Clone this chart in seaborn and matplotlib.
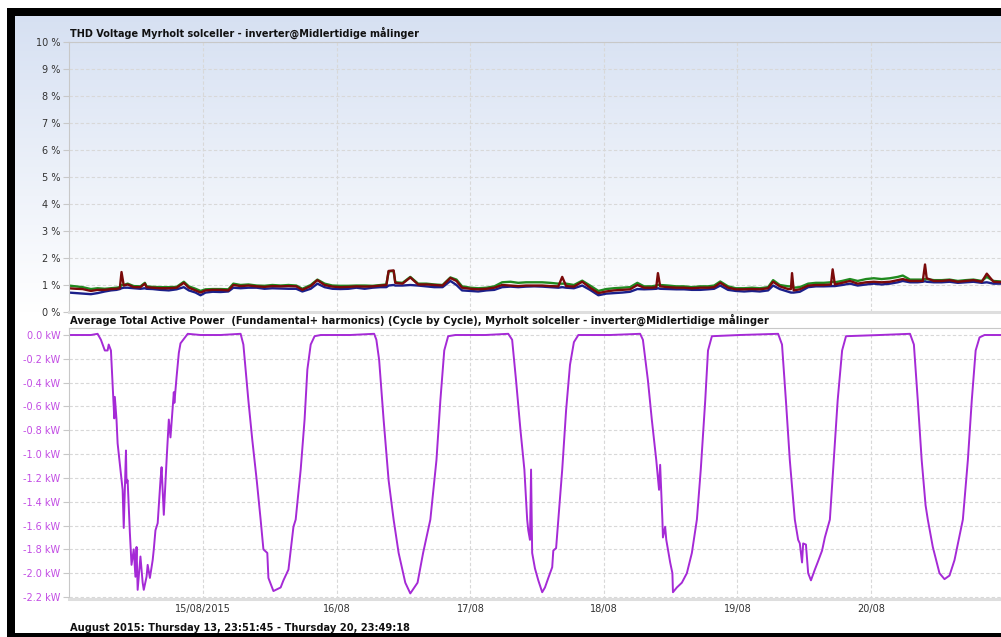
import numpy as np
import pandas as pd
import matplotlib
matplotlib.use("Agg")
import matplotlib.pyplot as plt
from matplotlib.patches import Rectangle
from matplotlib.ticker import FixedLocator, FixedFormatter
import seaborn as sns

# ---------------- data ----------------
# hours since 2015-08-14 00:00
thd_hours = [-0.2, 1.1, 2.3, 3.8, 5.0, 6.3, 7.4, 8.4, 9.0, 9.3,
             9.7, 10.4, 11.5, 12.7, 13.5, 13.8, 14.9, 16.3, 17.8, 19.2,
             20.5, 21.4, 22.6, 23.5, 24.4, 25.7, 27.1, 28.5, 29.4, 30.7,
             32.1, 33.6, 35.0, 36.4, 37.9, 39.3, 40.7, 41.8, 43.3, 44.5,
             45.8, 47.2, 48.6, 50.1, 51.5, 53.0, 54.4, 55.8, 56.9, 57.3,
             58.2, 58.5, 59.8, 61.2, 62.6, 64.1, 65.5, 67.0, 68.4, 69.5,
             70.5, 72.0, 73.4, 74.9, 76.3, 77.7, 79.2, 80.6, 82.0, 83.5,
             84.9, 86.3, 87.8, 88.5, 89.2, 90.6, 92.1, 93.5, 95.0, 96.4,
             97.8, 99.3, 100.7, 102.0, 103.2, 104.6, 105.4, 105.7, 106.1, 107.5,
             109.0, 110.4, 111.8, 113.3, 114.7, 115.8, 116.9, 118.3, 119.7, 121.2,
             122.6, 124.0, 125.5, 126.4, 127.6, 129.1, 129.6, 129.8, 130.1, 131.2,
             132.7, 134.1, 135.5, 136.8, 137.1, 137.5, 138.8, 140.2, 141.6, 143.1,
             144.5, 145.9, 147.4, 148.8, 149.7, 151.0, 152.4, 153.3, 153.7, 154.0,
             155.3, 156.7, 158.1, 159.6, 161.0, 162.4, 163.9, 164.8, 166.0, 167.9]
thd_green = [0.98, 0.95, 0.92, 0.85, 0.88, 0.86, 0.88, 0.90, 0.92, 1.00,
             1.00, 1.05, 0.96, 0.95, 1.08, 0.95, 0.93, 0.92, 0.92, 0.93,
             1.12, 0.95, 0.86, 0.78, 0.84, 0.85, 0.85, 0.84, 1.05, 1.00,
             1.02, 0.98, 0.97, 1.00, 0.98, 1.00, 0.98, 0.86, 1.00, 1.20,
             1.05, 0.98, 0.97, 0.97, 0.98, 0.98, 0.97, 1.00, 1.02, 1.50,
             1.52, 1.10, 1.08, 1.30, 1.05, 1.05, 1.02, 1.00, 1.28, 1.20,
             0.95, 0.90, 0.88, 0.90, 0.95, 1.10, 1.12, 1.08, 1.10, 1.10,
             1.10, 1.08, 1.05, 1.05, 1.05, 1.00, 1.16, 0.98, 0.78, 0.85,
             0.88, 0.90, 0.92, 1.08, 0.95, 0.95, 0.98, 1.00, 1.00, 0.98,
             0.95, 0.95, 0.92, 0.95, 0.95, 0.98, 1.13, 0.95, 0.88, 0.88,
             0.90, 0.88, 0.92, 1.18, 1.00, 0.95, 0.95, 0.95, 0.90, 0.92,
             1.05, 1.08, 1.08, 1.10, 1.12, 1.10, 1.15, 1.22, 1.15, 1.22,
             1.25, 1.22, 1.25, 1.30, 1.35, 1.20, 1.20, 1.20, 1.22, 1.22,
             1.18, 1.18, 1.20, 1.15, 1.18, 1.20, 1.15, 1.30, 1.15, 1.12]
thd_red = [0.88, 0.86, 0.85, 0.78, 0.82, 0.82, 0.85, 0.86, 0.88, 1.48,
           0.98, 1.02, 0.92, 0.92, 1.05, 0.92, 0.90, 0.88, 0.88, 0.90,
           1.08, 0.90, 0.80, 0.72, 0.80, 0.82, 0.82, 0.80, 1.00, 0.96,
           0.98, 0.95, 0.93, 0.96, 0.95, 0.96, 0.95, 0.82, 0.96, 1.18,
           1.00, 0.94, 0.92, 0.93, 0.95, 0.94, 0.95, 0.98, 1.00, 1.52,
           1.54, 1.08, 1.05, 1.28, 1.02, 1.02, 1.00, 0.98, 1.26, 1.15,
           0.90, 0.86, 0.84, 0.86, 0.90, 1.00, 0.98, 0.96, 0.98, 0.98,
           0.98, 0.96, 0.95, 1.30, 0.96, 0.94, 1.12, 0.90, 0.70, 0.76,
           0.80, 0.82, 0.84, 1.00, 0.90, 0.90, 0.92, 1.44, 0.95, 0.92,
           0.90, 0.90, 0.88, 0.90, 0.90, 0.92, 1.08, 0.90, 0.84, 0.84,
           0.85, 0.84, 0.88, 1.12, 0.95, 0.85, 0.85, 1.44, 0.80, 0.84,
           0.98, 1.00, 1.00, 1.02, 1.58, 1.02, 1.08, 1.15, 1.05, 1.10,
           1.12, 1.10, 1.12, 1.18, 1.22, 1.15, 1.15, 1.15, 1.76, 1.25,
           1.15, 1.15, 1.18, 1.12, 1.15, 1.18, 1.12, 1.42, 1.12, 1.10]
thd_navy = [0.72, 0.70, 0.68, 0.66, 0.70, 0.76, 0.80, 0.82, 0.85, 0.88,
            0.90, 0.90, 0.88, 0.86, 0.88, 0.86, 0.85, 0.82, 0.80, 0.84,
            0.92, 0.80, 0.72, 0.62, 0.72, 0.75, 0.74, 0.76, 0.90, 0.88,
            0.90, 0.90, 0.86, 0.88, 0.87, 0.86, 0.86, 0.76, 0.86, 1.05,
            0.92, 0.86, 0.85, 0.86, 0.90, 0.86, 0.90, 0.92, 0.92, 0.98,
            1.00, 0.98, 0.98, 1.00, 0.98, 0.95, 0.92, 0.92, 1.15, 1.00,
            0.80, 0.78, 0.76, 0.80, 0.82, 0.92, 0.94, 0.92, 0.94, 0.95,
            0.94, 0.92, 0.90, 0.92, 0.90, 0.88, 0.98, 0.82, 0.62, 0.68,
            0.70, 0.72, 0.75, 0.85, 0.84, 0.85, 0.86, 0.88, 0.86, 0.85,
            0.84, 0.84, 0.82, 0.82, 0.84, 0.86, 0.98, 0.82, 0.78, 0.76,
            0.78, 0.76, 0.80, 0.98, 0.85, 0.75, 0.72, 0.72, 0.72, 0.75,
            0.92, 0.95, 0.95, 0.96, 0.96, 0.96, 1.00, 1.05, 0.98, 1.02,
            1.05, 1.02, 1.05, 1.10, 1.15, 1.10, 1.10, 1.12, 1.14, 1.12,
            1.10, 1.10, 1.12, 1.08, 1.10, 1.12, 1.08, 1.10, 1.05, 1.05]

power_hours = ([-0.2, 3.8, 5.0, 5.6, 6.3, 6.8, 7.0, 7.4, 7.9, 8.0,
                8.1, 8.4, 8.6, 9.5, 9.7, 10.1, 10.2, 10.4, 10.8, 11.1,
                11.5, 11.8, 12.0, 12.2, 12.7, 13.1, 13.3, 13.8, 14.0, 14.4,
                14.9, 15.1, 15.4, 15.8, 16.3, 16.5, 16.9, 17.4, 17.8, 18.1,
                18.5, 18.7, 18.8, 19.2, 19.6, 19.9, 21.2, 23.5, 27.1]
               + [30.7, 31.2, 32.1, 32.8, 33.6, 34.3, 34.8, 35.5, 35.7, 36.6, 37.9,
                  38.4, 39.3, 40.2, 40.6, 41.5, 42.2, 42.7, 43.3, 44.0, 45.1, 50.4]
               + [54.7, 55.1, 55.6, 56.4, 57.3, 58.2, 59.1, 60.3, 61.2, 62.5,
                  63.5, 64.8, 65.9, 66.6, 67.3, 68.0, 69.3, 74.7]
               + [78.8, 79.5, 80.2, 81.0, 81.7, 82.2, 82.4, 82.7, 82.9, 83.1,
                  83.6, 84.2, 84.9, 85.4, 86.0, 86.7, 86.9, 87.4, 87.8, 88.5,
                  89.2, 89.9, 90.6, 91.4, 97.1]
               + [102.5, 103.0, 103.9, 104.6, 105.4, 105.9, 106.1, 106.5, 106.6, 107.0,
                  107.2, 107.9, 108.3, 108.4, 109.1, 110.0, 110.9, 111.8, 112.7, 113.4,
                  114.2, 114.7, 115.4, 120.4]
               + [127.3, 128.0, 128.7, 129.4, 130.0, 130.3, 130.9, 131.2, 131.6, 131.8,
                  132.3, 132.7, 133.2, 133.9, 134.4, 135.2, 135.7, 136.6, 137.3, 138.0,
                  138.8, 139.5, 145.6]
               + [151.0, 151.7, 152.4, 153.1, 153.8, 154.2, 155.1, 156.3, 157.2, 158.1,
                  159.0, 160.5, 161.4, 162.1, 162.8, 163.5, 164.4, 167.9])
power_kw = ([0.0, 0.0, 0.01, -0.04, -0.13, -0.13, -0.08, -0.13, -0.60, -0.70,
             -0.52, -0.71, -0.91, -1.30, -1.62, -0.97, -1.24, -1.22, -1.66, -1.93,
             -1.80, -2.03, -1.78, -2.14, -1.86, -2.08, -2.14, -2.03, -1.93, -2.04,
             -1.89, -1.80, -1.64, -1.58, -1.22, -1.11, -1.51, -1.05, -0.71, -0.86,
             -0.60, -0.48, -0.57, -0.35, -0.15, -0.07, 0.01, 0.0, 0.0]
            + [0.01, -0.08, -0.55, -0.88, -1.22, -1.55, -1.80, -1.83, -2.04, -2.15, -2.12,
               -2.06, -1.97, -1.61, -1.55, -1.13, -0.71, -0.29, -0.08, -0.01, 0.0, 0.0]
            + [0.01, -0.04, -0.21, -0.71, -1.22, -1.55, -1.83, -2.08, -2.17, -2.08,
               -1.83, -1.55, -1.05, -0.55, -0.13, -0.01, 0.0, 0.0]
            + [0.01, -0.04, -0.38, -0.80, -1.13, -1.55, -1.64, -1.72, -1.13, -1.83,
               -1.96, -2.06, -2.16, -2.12, -2.04, -1.95, -1.81, -1.79, -1.55, -1.13,
               -0.63, -0.25, -0.06, 0.0, 0.0]
            + [0.01, -0.04, -0.38, -0.71, -1.05, -1.30, -1.09, -1.55, -1.70, -1.61,
               -1.72, -1.91, -2.00, -2.16, -2.12, -2.08, -2.00, -1.83, -1.55, -1.13,
               -0.55, -0.13, -0.01, 0.0]
            + [0.01, -0.08, -0.55, -1.05, -1.39, -1.55, -1.72, -1.75, -1.91, -1.75,
               -1.76, -2.00, -2.06, -1.97, -1.91, -1.81, -1.70, -1.55, -1.05, -0.55,
               -0.13, -0.01, 0.0]
            + [0.01, -0.08, -0.55, -1.05, -1.43, -1.55, -1.78, -2.00, -2.05, -2.02,
               -1.89, -1.55, -1.05, -0.55, -0.13, -0.02, 0.0, 0.0])

thd_ticks = [0, 1, 2, 3, 4, 5, 6, 7, 8, 9, 10]
thd_labels = ["0 %", "1 %", "2 %", "3 %", "4 %", "5 %", "6 %", "7 %", "8 %", "9 %", "10 %"]
kw_ticks = [0.0, -0.2, -0.4, -0.6, -0.8, -1.0, -1.2, -1.4, -1.6, -1.8, -2.0, -2.2]
kw_labels = ["0.0 kW", "-0.2 kW", "-0.4 kW", "-0.6 kW", "-0.8 kW", "-1.0 kW",
             "-1.2 kW", "-1.4 kW", "-1.6 kW", "-1.8 kW", "-2.0 kW", "-2.2 kW"]
day_ticks = [24, 48, 72, 96, 120, 144]
day_labels = ["15/08/2015", "16/08", "17/08", "18/08", "19/08", "20/08"]
x_start, x_end = -0.1375, 167.822   # 13/08 23:51:45 .. 20/08 23:49:18

title_top = "THD Voltage Myrholt solceller - inverter@Midlertidige målinger"
title_bottom = ("Average Total Active Power  (Fundamental+ harmonics) (Cycle by Cycle), "
                "Myrholt solceller - inverter@Midlertidige målinger")
footer = "August 2015: Thursday 13, 23:51:45 - Thursday 20, 23:49:18"

# ---------------- figure ----------------
sns.set_theme(style="white")
plt.rcParams['font.family'] = ['DejaVu Sans']

W, H = 1001, 637
fig = plt.figure(figsize=(W / 100, H / 100), dpi=100)
fig.patch.set_facecolor('white')

def fx(px):
    return px / W

def fy(py):
    return 1 - py / H

# background: gradient + black frame
bg = fig.add_axes([0, 0, 1, 1], zorder=-10)
bg.set_xlim(0, W)
bg.set_ylim(H, 0)
bg.axis('off')
t = np.linspace(0, 1, 300)[:, None, None]
top_col = np.array([0.84, 0.88, 0.95])
img = top_col * (1 - t) + np.ones(3) * t
img = np.repeat(img, 2, axis=1)
bg.imshow(img, extent=[15, W, 312, 16], aspect='auto', interpolation='bilinear')
bg.add_patch(Rectangle((7, 8), W - 7, 8, color='black', lw=0))
bg.add_patch(Rectangle((7, 8), 8, H - 8, color='black', lw=0))
bg.add_patch(Rectangle((7, 633), W - 7, 4, color='black', lw=0))

left_px, right_px = 69, 1003.6
ax1 = fig.add_axes([fx(left_px), fy(312), fx(right_px - left_px), (312 - 42) / H])
ax2 = fig.add_axes([fx(left_px), fy(598.5), fx(right_px - left_px), (598.5 - 328) / H])
for ax in (ax1, ax2):
    ax.patch.set_alpha(0)

# THD lines
df_thd = pd.DataFrame({
    "hours": thd_hours * 3,
    "thd": thd_navy + thd_green + thd_red,
    "phase": ["navy"] * len(thd_hours) + ["green"] * len(thd_hours) + ["red"] * len(thd_hours),
})
sns.lineplot(data=df_thd, x="hours", y="thd", hue="phase",
             hue_order=["navy", "green", "red"],
             palette={"navy": "#1b1f8a", "green": "#1f8a1f", "red": "#7a0a0a"},
             estimator=None, sort=False, legend=False, lw=1.7, ax=ax1)

# power line
df_pw = pd.DataFrame({"hours": power_hours, "kw": power_kw})
sns.lineplot(data=df_pw, x="hours", y="kw", color="#a52ad6", lw=1.4,
             estimator=None, sort=False, ax=ax2)

grid_kw = dict(color='#d8d8d8', lw=0.8, ls=(0, (3, 2)))
for ax in (ax1, ax2):
    ax.set_xlim(x_start, x_end)
    ax.set_xlabel("")
    ax.set_ylabel("")
    ax.xaxis.set_major_locator(FixedLocator(day_ticks))
    ax.grid(True, **grid_kw)
    ax.spines['right'].set_visible(False)
    ax.spines['left'].set_color('#c8c8c8')
    ax.spines['left'].set_linewidth(0.8)
    ax.spines['top'].set_color('#c8c8c8')
    ax.spines['top'].set_linewidth(0.8)
    ax.spines['bottom'].set_color('#dedede')
    ax.spines['bottom'].set_linewidth(2.2)
    ax.tick_params(axis='y', left=True, length=4.3, width=0.8, color='#c8c8c8',
                   labelsize=7, pad=2)

ax1.set_ylim(0, 10)
ax1.yaxis.set_major_locator(FixedLocator(thd_ticks))
ax1.yaxis.set_major_formatter(FixedFormatter(thd_labels))
ax1.tick_params(axis='y', labelcolor='#333333')
ax1.tick_params(axis='x', bottom=False, labelbottom=False, length=0)

ax2.set_ylim(-2.2126, 0.0588)
ax2.yaxis.set_major_locator(FixedLocator(kw_ticks))
ax2.yaxis.set_major_formatter(FixedFormatter(kw_labels))
ax2.tick_params(axis='y', labelcolor='#c24ce4')
ax2.xaxis.set_major_formatter(FixedFormatter(day_labels))
ax2.tick_params(axis='x', bottom=False, length=0, labelsize=7, labelcolor='#333333', pad=4)

txt_kw = dict(fontweight='bold', color='#111111', ha='left', va='center')
fig.text(fx(70), fy(33), title_top, fontsize=7, **txt_kw)
fig.text(fx(70), fy(320), title_bottom, fontsize=7.2, **txt_kw)
fig.text(fx(70), fy(628), footer, fontsize=7.15, **txt_kw)

fig.savefig("out.png", dpi=100)
